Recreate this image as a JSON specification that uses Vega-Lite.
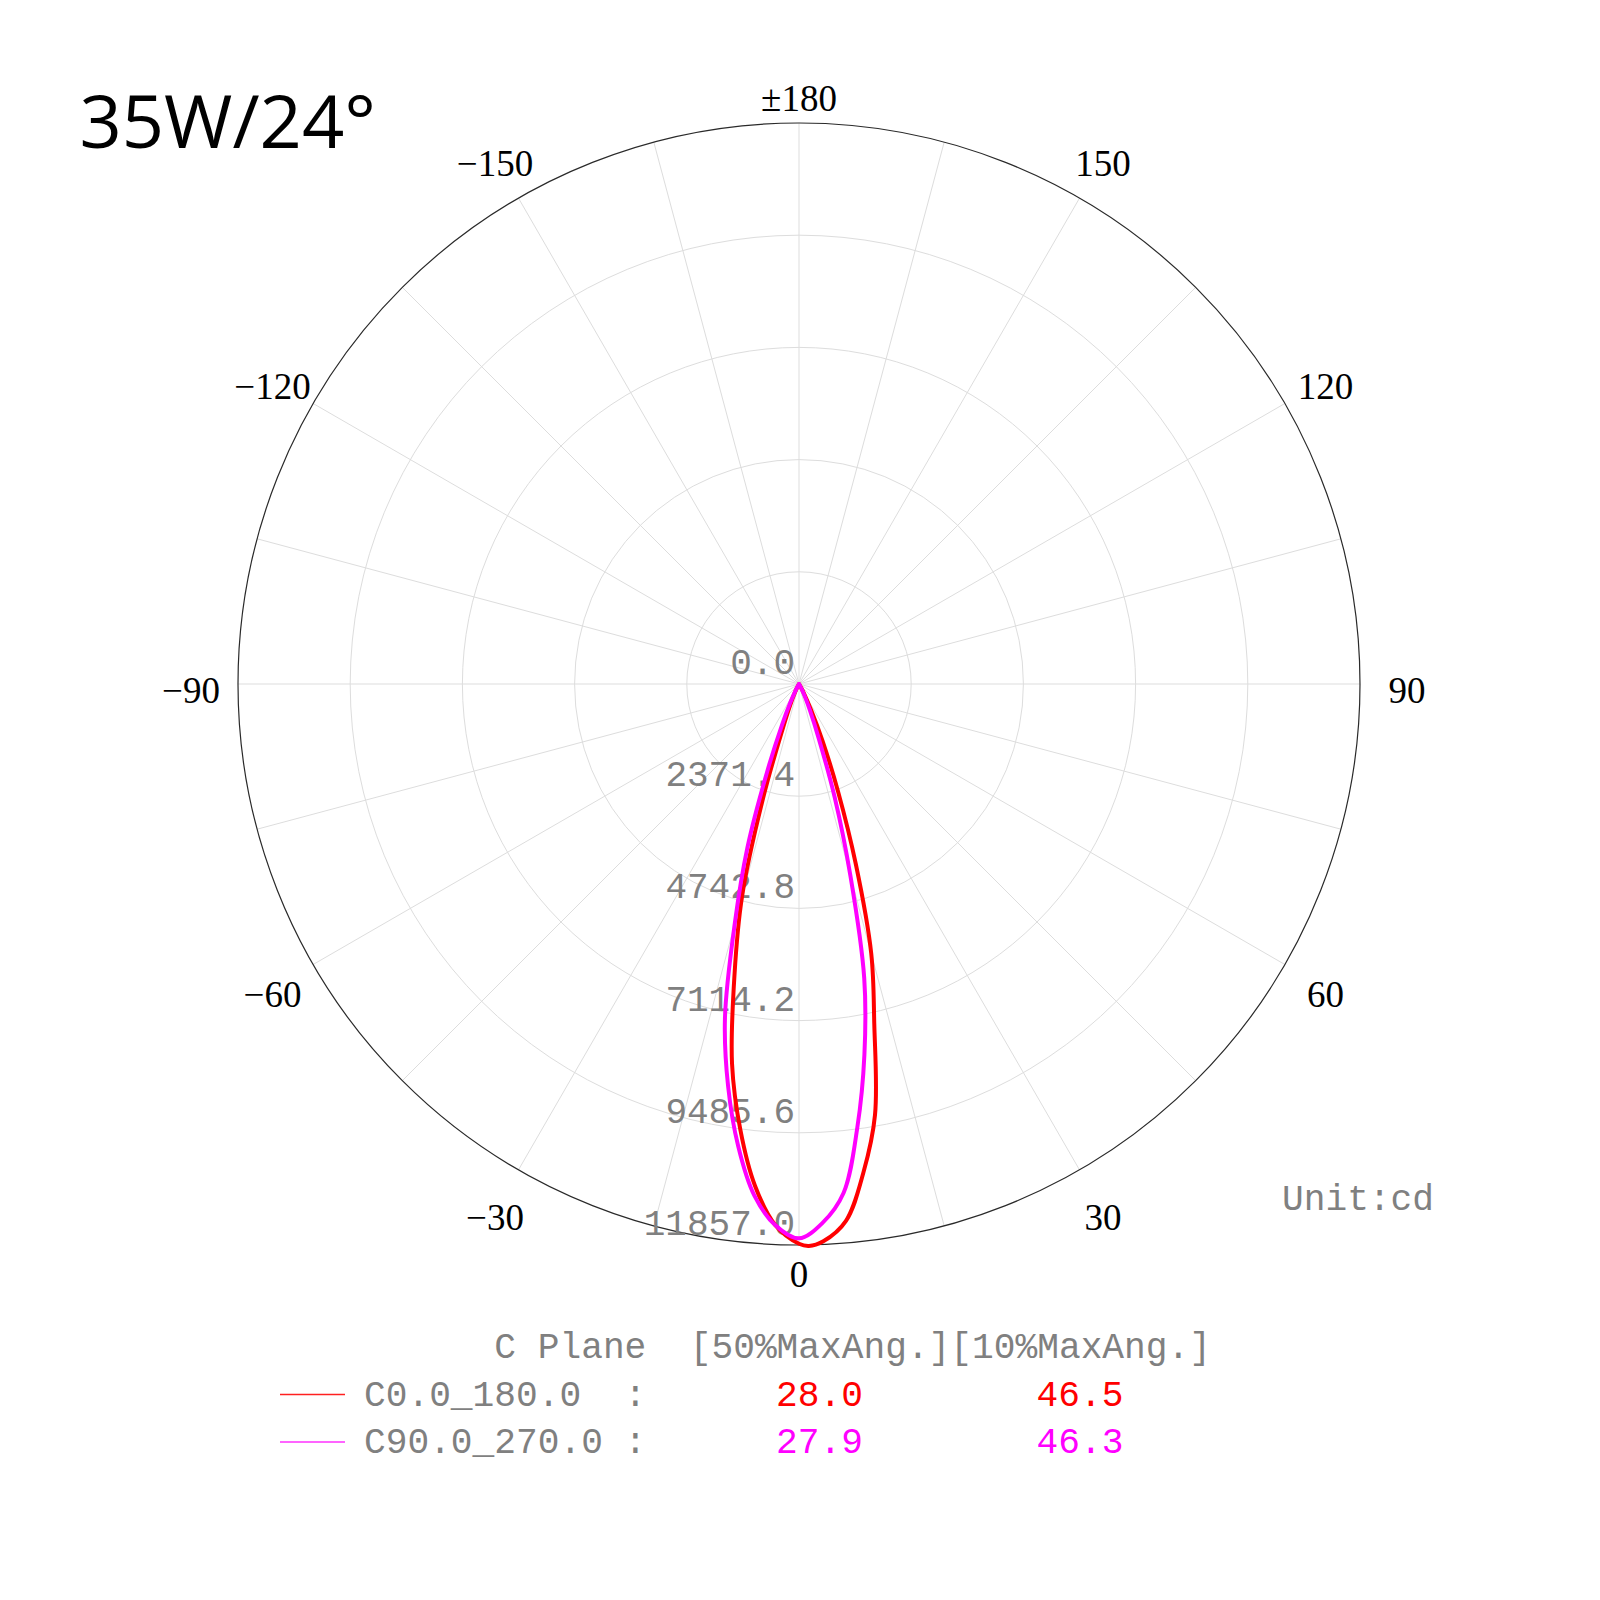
{
  "$schema": "https://vega.github.io/schema/vega-lite/v6.json",
  "width": 1200,
  "height": 1200,
  "autosize": {"type": "none"},
  "padding": {"left": 199, "top": 84, "right": 201, "bottom": 316},
  "background": "white",
  "view": {"stroke": null},
  "datasets": {
    "rings": [
      {"value": 0},
      {"value": 2371.4},
      {"value": 4742.8},
      {"value": 7114.2},
      {"value": 9485.6},
      {"value": 11857.0}
    ],
    "spokes": [
      {"angle": -165}, {"angle": -150}, {"angle": -135}, {"angle": -120},
      {"angle": -105}, {"angle": -90}, {"angle": -75}, {"angle": -60},
      {"angle": -45}, {"angle": -30}, {"angle": -15}, {"angle": 0},
      {"angle": 15}, {"angle": 30}, {"angle": 45}, {"angle": 60},
      {"angle": 75}, {"angle": 90}, {"angle": 105}, {"angle": 120},
      {"angle": 135}, {"angle": 150}, {"angle": 165}, {"angle": 180}
    ],
    "angleLabels": [
      {"angle": 0, "label": "0"},
      {"angle": 30, "label": "30"},
      {"angle": 60, "label": "60"},
      {"angle": 90, "label": "90"},
      {"angle": 120, "label": "120"},
      {"angle": 150, "label": "150"},
      {"angle": 180, "label": "±180"},
      {"angle": -30, "label": "−30"},
      {"angle": -60, "label": "−60"},
      {"angle": -90, "label": "−90"},
      {"angle": -120, "label": "−120"},
      {"angle": -150, "label": "−150"}
    ],
    "curves": [
      {"plane": "C0.0_180.0", "angle": -35, "cd": 0},
      {"plane": "C0.0_180.0", "angle": -30, "cd": 40},
      {"plane": "C0.0_180.0", "angle": -27.5, "cd": 100},
      {"plane": "C0.0_180.0", "angle": -25, "cd": 230},
      {"plane": "C0.0_180.0", "angle": -22.5, "cd": 500},
      {"plane": "C0.0_180.0", "angle": -20, "cd": 1000},
      {"plane": "C0.0_180.0", "angle": -17.5, "cd": 2500},
      {"plane": "C0.0_180.0", "angle": -15, "cd": 4650},
      {"plane": "C0.0_180.0", "angle": -12.5, "cd": 6300},
      {"plane": "C0.0_180.0", "angle": -10, "cd": 8150},
      {"plane": "C0.0_180.0", "angle": -7.5, "cd": 9500},
      {"plane": "C0.0_180.0", "angle": -5, "cd": 10650},
      {"plane": "C0.0_180.0", "angle": -2.5, "cd": 11450},
      {"plane": "C0.0_180.0", "angle": 0, "cd": 11830},
      {"plane": "C0.0_180.0", "angle": 1, "cd": 11880},
      {"plane": "C0.0_180.0", "angle": 2.5, "cd": 11790},
      {"plane": "C0.0_180.0", "angle": 5, "cd": 11390},
      {"plane": "C0.0_180.0", "angle": 7.5, "cd": 10420},
      {"plane": "C0.0_180.0", "angle": 10, "cd": 9250},
      {"plane": "C0.0_180.0", "angle": 12.5, "cd": 7350},
      {"plane": "C0.0_180.0", "angle": 15, "cd": 5900},
      {"plane": "C0.0_180.0", "angle": 17.5, "cd": 4000},
      {"plane": "C0.0_180.0", "angle": 20, "cd": 2400},
      {"plane": "C0.0_180.0", "angle": 22.5, "cd": 1300},
      {"plane": "C0.0_180.0", "angle": 25, "cd": 600},
      {"plane": "C0.0_180.0", "angle": 27.5, "cd": 250},
      {"plane": "C0.0_180.0", "angle": 30, "cd": 80},
      {"plane": "C0.0_180.0", "angle": 35, "cd": 0},
      {"plane": "C90.0_270.0", "angle": -35, "cd": 0},
      {"plane": "C90.0_270.0", "angle": -30, "cd": 60},
      {"plane": "C90.0_270.0", "angle": -27.5, "cd": 180},
      {"plane": "C90.0_270.0", "angle": -25, "cd": 450},
      {"plane": "C90.0_270.0", "angle": -22.5, "cd": 950},
      {"plane": "C90.0_270.0", "angle": -20, "cd": 1950},
      {"plane": "C90.0_270.0", "angle": -17.5, "cd": 3630},
      {"plane": "C90.0_270.0", "angle": -15, "cd": 5250},
      {"plane": "C90.0_270.0", "angle": -12.5, "cd": 7230},
      {"plane": "C90.0_270.0", "angle": -10, "cd": 8630},
      {"plane": "C90.0_270.0", "angle": -7.5, "cd": 9850},
      {"plane": "C90.0_270.0", "angle": -5, "cd": 10850},
      {"plane": "C90.0_270.0", "angle": -2.5, "cd": 11450},
      {"plane": "C90.0_270.0", "angle": 0, "cd": 11716},
      {"plane": "C90.0_270.0", "angle": 2.5, "cd": 11400},
      {"plane": "C90.0_270.0", "angle": 5, "cd": 10800},
      {"plane": "C90.0_270.0", "angle": 7.5, "cd": 9450},
      {"plane": "C90.0_270.0", "angle": 10, "cd": 7960},
      {"plane": "C90.0_270.0", "angle": 12.5, "cd": 6370},
      {"plane": "C90.0_270.0", "angle": 15, "cd": 4200},
      {"plane": "C90.0_270.0", "angle": 17.5, "cd": 2500},
      {"plane": "C90.0_270.0", "angle": 20, "cd": 1200},
      {"plane": "C90.0_270.0", "angle": 22.5, "cd": 600},
      {"plane": "C90.0_270.0", "angle": 25, "cd": 300},
      {"plane": "C90.0_270.0", "angle": 27.5, "cd": 120},
      {"plane": "C90.0_270.0", "angle": 30, "cd": 40},
      {"plane": "C90.0_270.0", "angle": 35, "cd": 0}
    ],
    "legend": [
      {"plane": "C0.0_180.0", "half": 28.0, "tenth": 46.5},
      {"plane": "C90.0_270.0", "half": 27.9, "tenth": 46.3}
    ]
  },
  "resolve": {"scale": {"x": "independent", "y": "independent", "color": "independent", "size": "independent"}},
  "layer": [
    {
      "data": {"name": "rings"},
      "transform": [{"filter": "datum.value > 0 && datum.value < 11857"}],
      "mark": {"type": "point", "shape": "circle", "filled": false, "color": "#dddddd", "strokeWidth": 1, "opacity": 1},
      "encoding": {
        "x": {"datum": 0, "type": "quantitative", "scale": {"domain": [-12681.3, 12681.3], "nice": false, "zero": false}, "axis": null},
        "y": {"datum": 0, "type": "quantitative", "scale": {"domain": [-12681.3, 12681.3], "nice": false, "zero": false, "reverse": true}, "axis": null},
        "size": {"field": "value", "type": "quantitative", "scale": {"type": "pow", "exponent": 2, "domain": [0, 11857], "range": [0, 1258884], "zero": true, "nice": false}, "legend": null}
      }
    },
    {
      "data": {"name": "spokes"},
      "transform": [
        {"calculate": "11857 * sin(datum.angle * PI / 180)", "as": "sx"},
        {"calculate": "11857 * cos(datum.angle * PI / 180)", "as": "sy"}
      ],
      "mark": {"type": "rule", "color": "#dddddd", "strokeWidth": 1},
      "encoding": {
        "x": {"field": "sx", "type": "quantitative", "scale": {"domain": [-12681.3, 12681.3], "nice": false, "zero": false}, "axis": null},
        "y": {"field": "sy", "type": "quantitative", "scale": {"domain": [-12681.3, 12681.3], "nice": false, "zero": false, "reverse": true}, "axis": null},
        "x2": {"datum": 0},
        "y2": {"datum": 0}
      }
    },
    {
      "data": {"name": "rings"},
      "transform": [{"filter": "datum.value == 11857"}],
      "mark": {"type": "point", "shape": "circle", "filled": false, "color": "#2a2a2a", "strokeWidth": 1.2, "opacity": 1},
      "encoding": {
        "x": {"datum": 0, "type": "quantitative", "scale": {"domain": [-12681.3, 12681.3], "nice": false, "zero": false}, "axis": null},
        "y": {"datum": 0, "type": "quantitative", "scale": {"domain": [-12681.3, 12681.3], "nice": false, "zero": false, "reverse": true}, "axis": null},
        "size": {"field": "value", "type": "quantitative", "scale": {"type": "pow", "exponent": 2, "domain": [0, 11857], "range": [0, 1258884], "zero": true, "nice": false}, "legend": null}
      }
    },
    {
      "data": {"name": "rings"},
      "mark": {"type": "text", "align": "right", "baseline": "alphabetic", "dx": -4, "dy": -10, "font": "Liberation Mono", "fontSize": 36, "color": "#808080"},
      "encoding": {
        "x": {"datum": 0, "type": "quantitative", "scale": {"domain": [-12681.3, 12681.3], "nice": false, "zero": false}, "axis": null},
        "y": {"field": "value", "type": "quantitative", "scale": {"domain": [-12681.3, 12681.3], "nice": false, "zero": false, "reverse": true}, "axis": null},
        "text": {"field": "value", "type": "quantitative", "format": ".1f"}
      }
    },
    {
      "data": {"name": "angleLabels"},
      "transform": [
        {"calculate": "abs(datum.angle) == 180 ? 12512 : (datum.angle == 0 ? 12343 : 12850)", "as": "lr"},
        {"calculate": "datum.lr * sin(datum.angle * PI / 180)", "as": "lx"},
        {"calculate": "datum.lr * cos(datum.angle * PI / 180)", "as": "ly"}
      ],
      "mark": {"type": "text", "align": "center", "baseline": "middle", "dy": 8, "font": "Liberation Serif", "fontSize": 37, "color": "#000000"},
      "encoding": {
        "x": {"field": "lx", "type": "quantitative", "scale": {"domain": [-12681.3, 12681.3], "nice": false, "zero": false}, "axis": null},
        "y": {"field": "ly", "type": "quantitative", "scale": {"domain": [-12681.3, 12681.3], "nice": false, "zero": false, "reverse": true}, "axis": null},
        "text": {"field": "label", "type": "nominal"}
      }
    },
    {
      "data": {"name": "curves"},
      "transform": [
        {"calculate": "datum.cd * sin(datum.angle * PI / 180)", "as": "px"},
        {"calculate": "datum.cd * cos(datum.angle * PI / 180)", "as": "py"}
      ],
      "mark": {"type": "line", "strokeWidth": 4, "interpolate": "catmull-rom", "strokeJoin": "round", "strokeCap": "round"},
      "encoding": {
        "x": {"field": "px", "type": "quantitative", "scale": {"domain": [-12681.3, 12681.3], "nice": false, "zero": false}, "axis": null},
        "y": {"field": "py", "type": "quantitative", "scale": {"domain": [-12681.3, 12681.3], "nice": false, "zero": false, "reverse": true}, "axis": null},
        "color": {"field": "plane", "type": "nominal", "scale": {"domain": ["C0.0_180.0", "C90.0_270.0"], "range": ["#ff0000", "#ff00ff"]}, "legend": null},
        "order": {"field": "angle", "type": "quantitative"}
      }
    },
    {
      "data": {"values": [{"title": "35W/24°"}]},
      "mark": {"type": "text", "align": "left", "baseline": "alphabetic", "font": "Open Sans", "fontSize": 74, "color": "#000000"},
      "encoding": {
        "x": {"datum": -15207, "type": "quantitative", "scale": {"domain": [-12681.3, 12681.3], "nice": false, "zero": false}, "axis": null},
        "y": {"datum": -11322, "type": "quantitative", "scale": {"domain": [-12681.3, 12681.3], "nice": false, "zero": false, "reverse": true}, "axis": null},
        "text": {"field": "title", "type": "nominal"}
      }
    },
    {
      "data": {"name": "legend"},
      "mark": {"type": "point", "shape": "stroke", "size": 4225, "strokeWidth": 1.5, "filled": false, "opacity": 1},
      "encoding": {
        "x": {"datum": "symbol", "type": "nominal", "scale": {"type": "point", "domain": ["symbol", "text"], "range": [113.5, 165], "padding": 0}, "axis": null},
        "y": {"field": "plane", "type": "nominal", "scale": {"type": "point", "domain": ["header", "C0.0_180.0", "C90.0_270.0"], "range": [1263, 1358], "padding": 0}, "axis": null},
        "color": {"field": "plane", "type": "nominal", "scale": {"domain": ["C0.0_180.0", "C90.0_270.0"], "range": ["#ff2020", "#ff30ff"]}, "legend": null}
      }
    },
    {
      "data": {"values": [{"plane": "header"}]},
      "mark": {"type": "text", "align": "left", "baseline": "alphabetic", "font": "Liberation Mono", "fontSize": 36.2, "color": "#808080"},
      "encoding": {
        "x": {"datum": "text", "type": "nominal", "scale": {"type": "point", "domain": ["symbol", "text"], "range": [113.5, 165], "padding": 0}, "axis": null},
        "y": {"field": "plane", "type": "nominal", "scale": {"type": "point", "domain": ["header", "C0.0_180.0", "C90.0_270.0"], "range": [1274, 1369], "padding": 0}, "axis": null},
        "text": {"value": "\u200b\u00a0\u00a0\u00a0\u00a0\u00a0\u00a0C Plane\u00a0\u00a0[50%MaxAng.][10%MaxAng.]"}
      }
    },
    {
      "data": {"name": "legend"},
      "transform": [
        {"calculate": "pad(datum.plane, 11, '\u00a0') + '\u00a0:'", "as": "label"}
      ],
      "mark": {"type": "text", "align": "left", "baseline": "alphabetic", "font": "Liberation Mono", "fontSize": 36.2, "color": "#808080"},
      "encoding": {
        "x": {"datum": "text", "type": "nominal", "scale": {"type": "point", "domain": ["symbol", "text"], "range": [113.5, 165], "padding": 0}, "axis": null},
        "y": {"field": "plane", "type": "nominal", "scale": {"type": "point", "domain": ["header", "C0.0_180.0", "C90.0_270.0"], "range": [1274, 1369], "padding": 0}, "axis": null},
        "text": {"field": "label", "type": "nominal"}
      }
    },
    {
      "data": {"name": "legend"},
      "transform": [
        {"calculate": "format(datum.half, '.1f') + pad('', 8, '\u00a0') + format(datum.tenth, '.1f')", "as": "vals"}
      ],
      "mark": {"type": "text", "align": "left", "baseline": "alphabetic", "dx": 412, "font": "Liberation Mono", "fontSize": 36.2},
      "encoding": {
        "x": {"datum": "text", "type": "nominal", "scale": {"type": "point", "domain": ["symbol", "text"], "range": [113.5, 165], "padding": 0}, "axis": null},
        "y": {"field": "plane", "type": "nominal", "scale": {"type": "point", "domain": ["header", "C0.0_180.0", "C90.0_270.0"], "range": [1274, 1369], "padding": 0}, "axis": null},
        "color": {"field": "plane", "type": "nominal", "scale": {"domain": ["C0.0_180.0", "C90.0_270.0"], "range": ["#ff0000", "#ff00ff"]}, "legend": null},
        "text": {"field": "vals", "type": "nominal"}
      }
    },
    {
      "data": {"values": [{"unit": "Unit:cd"}]},
      "mark": {"type": "text", "align": "left", "baseline": "alphabetic", "font": "Liberation Mono", "fontSize": 36.2, "color": "#808080"},
      "encoding": {
        "x": {"datum": 10208, "type": "quantitative", "scale": {"domain": [-12681.3, 12681.3], "nice": false, "zero": false}, "axis": null},
        "y": {"datum": 11117, "type": "quantitative", "scale": {"domain": [-12681.3, 12681.3], "nice": false, "zero": false, "reverse": true}, "axis": null},
        "text": {"field": "unit", "type": "nominal"}
      }
    }
  ]
}
